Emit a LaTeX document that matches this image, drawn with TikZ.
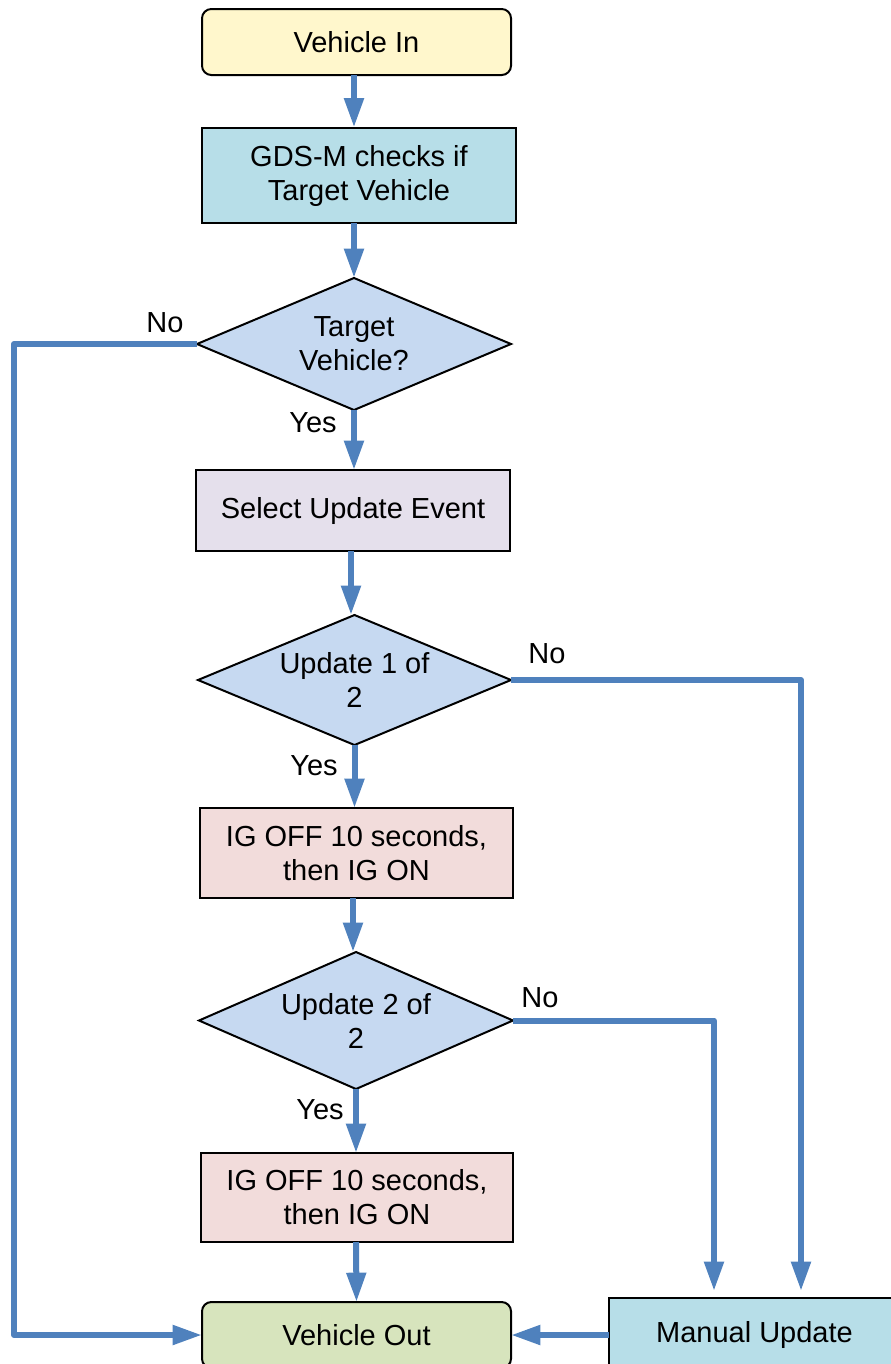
\documentclass[tikz,border=0pt]{standalone}
\usepackage{fontspec}
\setmainfont{Liberation Sans}
\usetikzlibrary{shapes.geometric,arrows.meta}
\definecolor{arrblue}{HTML}{4F81BD}
\definecolor{fyellow}{HTML}{FFF7CC}
\definecolor{fcyan}{HTML}{B7DEE8}
\definecolor{fdiam}{HTML}{C6D9F1}
\definecolor{flav}{HTML}{E5E0EC}
\definecolor{fpink}{HTML}{F2DCDB}
\definecolor{fgreen}{HTML}{D7E4BD}
\tikzset{
  base/.style={draw=black, line width=1.5pt, align=center, inner sep=0pt, outer sep=0pt,
    font=\fontsize{21.75}{25.5}\selectfont},
  term/.style={base, rounded corners=7pt, rectangle},
  proc/.style={base, rectangle},
  dec/.style={base, diamond, fill=fdiam, shape aspect=2.6},
  arr/.style={draw=arrblue, line width=4.5pt, line join=round,
    -{Triangle[width=14pt,length=22pt]}},
  lbl/.style={font=\fontsize{21.75}{25.5}\selectfont, inner sep=0pt}
}
\begin{document}
\begin{tikzpicture}[x=0.75pt,y=-0.75pt]
\useasboundingbox (0,0) rectangle (891,1364);
\clip (0,0) rectangle (891,1364);
\node[term, fill=fyellow, minimum width=231.75pt, minimum height=49.5pt] (vin) at (356.5,42) {Vehicle In};
\node[proc, fill=fcyan, minimum width=235.5pt, minimum height=71.25pt] (gds) at (359,175.5) {GDS-M checks if\\Target Vehicle};
\node[dec, minimum width=235.5pt, minimum height=99pt] (d1) at (354,344) {Target\\Vehicle?};
\node[proc, fill=flav, minimum width=235.5pt, minimum height=60.75pt] (sel) at (353,510.5) {Select Update Event};
\node[dec, minimum width=234.75pt, minimum height=97.5pt] (d2) at (354.5,680) {Update 1 of\\2};
\node[proc, fill=fpink, minimum width=234.75pt, minimum height=67.5pt] (ig1) at (356.5,853) {IG OFF 10 seconds,\\then IG ON};
\node[dec, minimum width=235.5pt, minimum height=102.75pt] (d3) at (356,1020.5) {Update 2 of\\2};
\node[proc, fill=fpink, minimum width=234pt, minimum height=66.75pt] (ig2) at (357,1197.5) {IG OFF 10 seconds,\\then IG ON};
\node[term, fill=fgreen, minimum width=231.75pt, minimum height=49.5pt] (vout) at (356.5,1335) {Vehicle Out};
\node[proc, fill=fcyan, minimum width=218.25pt, minimum height=55.5pt] (man) at (754.5,1335) {Manual Update};

\coordinate (lc) at (14,1335);
\coordinate (r1) at (801,1291);
\coordinate (r2) at (714,1291);

\draw[arr] (354,75) -- (354,127.5);
\draw[arr] (354,223) -- (d1.north);
\draw[arr] (d1.south) -- (d1.south |- sel.north);
\draw[arr] (351,551) -- (351,615);
\draw[arr] (d2.south) -- (d2.south |- ig1.north);
\draw[arr] (353,898) -- (353,952);
\draw[arr] (d3.south) -- (d3.south |- ig2.north);
\draw[arr] (356,1242) -- (vout.north);
\draw[arr] (d1.west) -| (lc) -- (vout.west);
\draw[arr] (d2.east) -| (r1);
\draw[arr] (d3.east) -| (r2);
\draw[arr] (man.west) -- (vout.east);

\node[lbl] (no1) at (165,323) {No};
\node[lbl] (yes1) at (313,423) {Yes};
\node[lbl] (no2) at (547,654) {No};
\node[lbl] (yes2) at (314,766) {Yes};
\node[lbl] (no3) at (540,998) {No};
\node[lbl] (yes3) at (320,1110) {Yes};
\end{tikzpicture}
\end{document}
